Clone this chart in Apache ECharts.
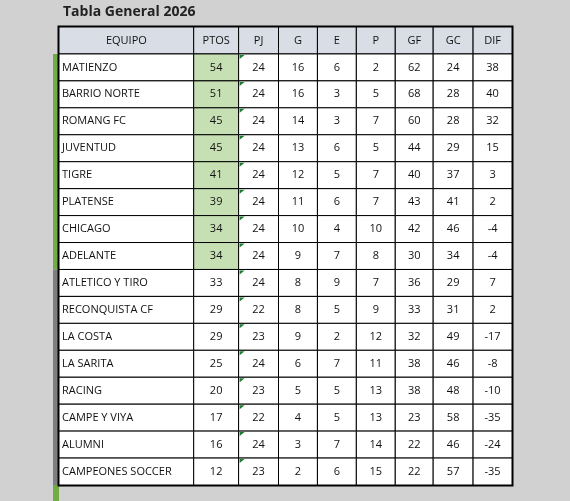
<!DOCTYPE html><html><head><meta charset="utf-8">
<script src="https://cdn.jsdelivr.net/npm/echarts@6/dist/echarts.min.js"></script>
<style>html,body{margin:0;background:#d2d1d2}#c{width:570px;height:501px}</style></head><body><div id="c"></div>
<script>
const headers=["EQUIPO","PTOS","PJ","G","E","P","GF","GC","DIF"];
const teams=["MATIENZO","BARRIO NORTE","ROMANG FC","JUVENTUD","TIGRE","PLATENSE","CHICAGO","ADELANTE","ATLETICO Y TIRO","RECONQUISTA CF","LA COSTA","LA SARITA","RACING","CAMPE Y VIYA","ALUMNI","CAMPEONES SOCCER"];
const ptos=[54,51,45,45,41,39,34,34,33,29,29,25,20,17,16,12];
const pj=[24,24,24,24,24,24,24,24,24,22,23,24,23,22,24,23];
const g=[16,16,14,13,12,11,10,9,8,8,9,6,5,4,3,2];
const e=[6,3,3,6,5,6,4,7,9,5,2,7,5,5,7,6];
const p=[2,5,7,5,7,7,10,8,7,9,12,11,13,13,14,15];
const gf=[62,68,60,44,40,43,42,30,36,33,32,38,38,23,22,22];
const gc=[24,28,28,29,37,41,46,34,29,31,49,46,48,58,46,57];
const dif=[38,40,32,15,3,2,-4,-4,7,2,-17,-8,-10,-35,-24,-35];
const edges=[0,135,180,220,259,298,337,375,415,454];
const rowsCat=["H"].concat(teams.map((t,i)=>"r"+i));
const cols=[teams,ptos,pj,g,e,p,gf,gc,dif];
const data=[];
headers.forEach((h,c)=>data.push([c,0,h]));
teams.forEach((t,r)=>cols.forEach((arr,c)=>data.push([c,r+1,String(arr[r])])));
const FONT='"Open Sans", sans-serif';
const chart=echarts.init(document.getElementById('c'));
chart.setOption({
 animation:false,
 grid:{left:59,right:58,top:27,bottom:16},
 xAxis:{type:'value',min:0,max:454,show:false},
 yAxis:{type:'category',data:rowsCat,inverse:true,show:false},
 series:[{type:'custom',data:data,renderItem:function(params,api){
  const c=api.value(0),r=api.value(1),txt=data[params.dataIndex][2];
  const h=api.size([0,1])[1];
  const a=api.coord([edges[c],r]),b=api.coord([edges[c+1],r]);
  const x=a[0],y=a[1]-h/2,w=b[0]-a[0];
  let fill='#ffffff';
  if(r===0)fill='#d9dde6';else if(c===1&&r<=8)fill='#c6e0b4';
  const ch=[{type:'rect',shape:{x:x,y:y,width:w,height:h},style:{fill:fill,stroke:'#000',lineWidth:1}},
   {type:'text',style:{text:txt,x:(c===0&&r>0)?x+3:x+w/2,y:y+h/2,align:(c===0&&r>0)?'left':'center',verticalAlign:'middle',font:'11px '+FONT,fill:'#111'}}];
  if(c===2&&r>0)ch.push({type:'polygon',shape:{points:[[x+1,y+1],[x+6,y+1],[x+1,y+5]]},style:{fill:'#1e7b34'}});
  return {type:'group',children:ch};
 }}]
});
const L=59,R=512,T=27,B=485,rh=(B-T)/17;
const line=(x1,y1,x2,y2)=>({type:'line',shape:{x1,y1,x2,y2},style:{stroke:'#000',lineWidth:3}});
const xP=i=>L+(R-L)*edges[i]/454;
chart.setOption({graphic:[
 {type:'text',left:63,top:5,style:{text:'Tabla General 2026',font:'bold 14px '+FONT,fill:'#222'}},
 {type:'rect',z:-1,shape:{x:53,y:T+rh,width:6,height:rh*8},style:{fill:'#70ad47'}},
 {type:'rect',z:-1,shape:{x:53,y:T+rh*9,width:6,height:rh*8},style:{fill:'#7f7f7f'}},
 {type:'rect',z:-1,shape:{x:53,y:B,width:6,height:501-B},style:{fill:'#70ad47'}},
 {type:'rect',shape:{x:L,y:T,width:R-L,height:B-T},style:{fill:'none',stroke:'#000',lineWidth:3}},
 line(xP(2),T,xP(2),B),line(xP(6),T,xP(6),B)
]});
</script></body></html>
